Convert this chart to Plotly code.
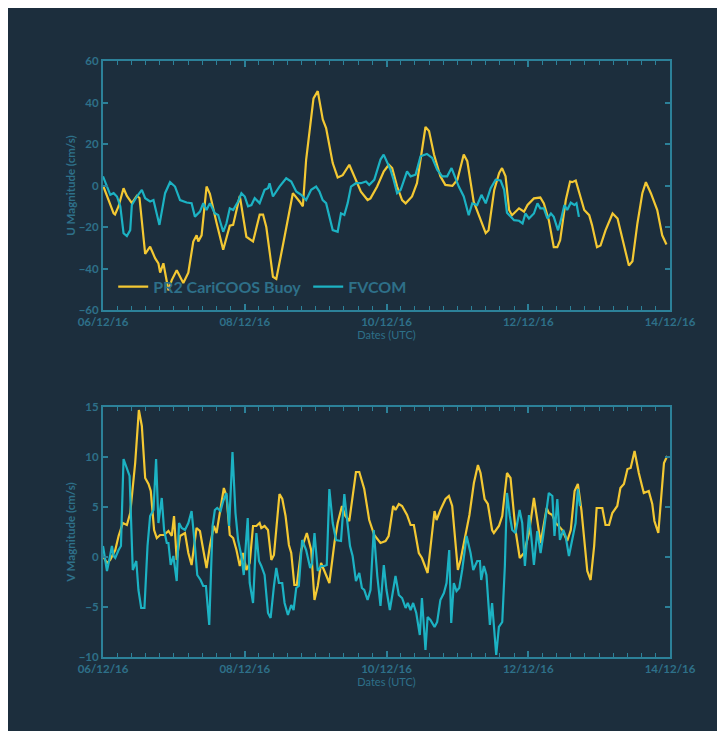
import plotly.graph_objects as go
from plotly.subplots import make_subplots
import pandas as pd

START = "2016-12-06"
END = "2016-12-14"

# ---- U component (top panel): day offsets from 06/12/16 and values (cm/s)
u_buoy_days = [0, .15, .17, .22, .29, .337, .407, .478, .515, .595, .665, .735, .782, .806, .852, .923,
               .97, 1.04, 1.133, 1.204, 1.274, 1.321, 1.344, 1.391, 1.461, 1.508, 1.602, 1.696, 1.789,
               1.836, 1.93, 2.023, 2.117, 2.211, 2.258, 2.304, 2.398, 2.445, 2.539, 2.679, 2.773, 2.82,
               2.866, 2.97, 3.03, 3.101, 3.148, 3.241, 3.311, 3.382, 3.475, 3.522, 3.639, 3.733, 3.774,
               3.868, 3.962, 4.033, 4.08, 4.15, 4.22, 4.27, 4.36, 4.43, 4.50, 4.55, 4.60, 4.67, 4.76,
               4.83, 4.93, 5.0, 5.09, 5.14, 5.23, 5.33, 5.40, 5.44, 5.52, 5.59, 5.63, 5.68, 5.73, 5.77,
               5.87, 5.94, 5.99, 6.08, 6.17, 6.22, 6.29, 6.36, 6.41, 6.45, 6.53, 6.59, 6.62, 6.67, 6.72,
               6.79, 6.86, 6.90, 6.97, 7.02, 7.09, 7.19, 7.26, 7.33, 7.42, 7.47, 7.54, 7.61, 7.66, 7.73,
               7.82, 7.89, 7.95]
u_buoy_vals = [0, -13.4, -14, -10, -1.3, -5, -8.5, -5, -6, -33, -29.5, -35, -37.5, -42, -37.5, -50.5,
               -45.6, -40.8, -47, -42, -27, -24, -27, -24, -0.5, -4, -18, -31, -19.4,
               -19, -5, -24.7, -27, -14, -14, -20, -44, -45, -28.7, -3.7, -7.7, -10,
               12.4, 42, 45.5, 31.8, 27.7, 10.8, 3.9, 5, 10, 6, -3, -7, -6.2,
               -0.5, 6.8, 10, 8.4, -0.5, -7, -8.6, -5.3, 1.1, 17.3, 28.2, 26.3, 14.9, 4.4,
               0.3, -0.2, 2.8, 14.9, 11.7, -7.8, -16.7, -22.9, -21.6, -2.1, 6, 8.4, 4.4, -11.8, -14.3,
               -11, -12.6, -9.4, -6.2, -5.8, -8.6, -16.7, -29.7, -29.7, -26.4, -7, 1.9, 1.6, 2.4, -3.7,
               -11.8, -14.3, -19.1, -29.7, -28.9, -21.6, -13.5, -15.9, -26.4, -38.6, -36.5, -18.3, -3.7, 1.6, -3.7,
               -11.8, -24, -28.4]

u_model_days = [0, .056, .103, .15, .197, .244, .29, .337, .384, .407, .478, .548, .595, .665, .712, .796,
                .876, .946, 1.016, 1.087, 1.18, 1.25, 1.297, 1.368, 1.415, 1.461, 1.508, 1.578, 1.625,
                1.696, 1.742, 1.789, 1.836, 1.906, 1.953, 2.0, 2.047, 2.094, 2.14, 2.21, 2.28, 2.328,
                2.35, 2.398, 2.49, 2.585, 2.656, 2.726, 2.796, 2.866, 2.937, 3.007, 3.054, 3.1, 3.148,
                3.241, 3.311, 3.358, 3.405, 3.452, 3.499, 3.569, 3.639, 3.71, 3.756, 3.827, 3.87, 3.915,
                3.96, 4.01, 4.056, 4.10, 4.15, 4.20, 4.245, 4.29, 4.34, 4.41, 4.48, 4.57, 4.645, 4.715,
                4.786, 4.856, 4.918, 4.974, 5.02, 5.09, 5.16, 5.21, 5.28, 5.34, 5.40, 5.47, 5.54, 5.61,
                5.66, 5.70, 5.80, 5.87, 5.92, 5.96, 6.01, 6.08, 6.13, 6.17, 6.22, 6.27, 6.32, 6.36, 6.42,
                6.46, 6.51, 6.55, 6.60, 6.65, 6.68, 6.715]
u_model_vals = [4.4, -0.5, -4.5, -3.7, -5.3, -10, -23, -24.4, -21.5, -9.4, -5.3, -2.1, -6.1, -7.7, -7, -19,
                -3.7, 1.6, -0.5, -7, -8.2, -8.5, -15, -12.6, -8.5, -11.8, -8.5, -13.4, -14.2,
                -22.3, -18.2, -11, -11.8, -7.7, -3.7, -5.3, -10, -9.4, -6.1, -8.5, -2.1, -1.3,
                1.1, -5.3, -0.5, 3.5, 1.9, -2.9, -4.5, -7, -2.1, -0.5, -2.9, -7, -8.5,
                -21.5, -22.3, -13.4, -14.2, -8.5, -0.5, 1.1, 1.1, 1.9, 0.3, 2.7, 7.6, 12.5,
                14.9, 10.9, 7.6, 2.8, -3.7, -2.1, 2.3, 6.8, 4.4, 5.2, 14.1, 15.2, 13.3, 7.6,
                4.4, 4.4, 8.4, 3.6, -0.5, -5.3, -14.3, -8.6, -9.4, -4.5, -8.6, -1.3, 2.8, 2.4,
                -2.1, -13.1, -16.7, -17, -18.3, -13.5, -15.9, -13.5, -8.6, -11, -11, -15.9, -13.5, -15.1, -21.6,
                -16.7, -9.4, -11.8, -8.3, -9.4, -8.6, -15.1]

# ---- V component (bottom panel)
v_buoy_days = [0, .056, .1, .173, .22, .28, .337, .384, .454, .506, .548, .595, .642, .674, .721, .759,
               .806, .862, .923, .97, 1.002, 1.04, 1.087, 1.157, 1.204, 1.25, 1.32, 1.368, 1.405, 1.461,
               1.508, 1.564, 1.602, 1.649, 1.705, 1.742, 1.789, 1.836, 1.883, 1.93, 1.977, 2.023, 2.07,
               2.117, 2.164, 2.21, 2.234, 2.28, 2.328, 2.375, 2.412, 2.49, 2.53, 2.576, 2.623, 2.656,
               2.70, 2.735, 2.796, 2.876, 2.937, 2.984, 3.03, 3.077, 3.124, 3.194, 3.265, 3.311, 3.372,
               3.419, 3.475, 3.522, 3.569, 3.616, 3.686, 3.756, 3.827, 3.915, 3.986, 4.03, 4.094,
               4.127, 4.174, 4.22, 4.29, 4.34, 4.386, 4.456, 4.50, 4.58, 4.63, 4.678, 4.706, 4.76,
               4.833, 4.88, 4.927, 5.007, 5.045, 5.115, 5.17, 5.233, 5.29, 5.327, 5.384, 5.43, 5.49,
               5.515, 5.586, 5.633, 5.70, 5.75, 5.82, 5.88, 5.94, 6.01, 6.08, 6.127, 6.174, 6.26, 6.29,
               6.34, 6.386, 6.43, 6.48, 6.55, 6.60, 6.654, 6.70, 6.75, 6.81, 6.833, 6.88, 6.93, 6.965,
               7.045, 7.09, 7.14, 7.186, 7.256, 7.30, 7.35, 7.40, 7.445, 7.50, 7.56, 7.63, 7.70, 7.75,
               7.78, 7.835, 7.915, 7.96]
v_buoy_vals = [0.1, -0.6, -0.3, 0.7, 2.1, 3.4, 3.2, 4.4, 9.4, 14.7, 13.1, 7.9, 7.3, 6.6, 2.7, 1.9,
               2.2, 2.2, 2.6, 2.1, 4.1, -0.3, 2.1, 2.4, 0.4, -0.8, 2.9, 2.6, 1.1, -1.1,
               1.1, 3.1, 2.4, 4.4, 6.9, 6.1, 2.2, 1.9, 0.7, -0.9, 0.4, -1.3, -0.6,
               3.1, 3.1, 3.4, 2.9, 3.1, 2.7, -0.3, 0.2, 6.3, 5.8, 4.1, 1.2, 0.4,
               -2.8, -2.8, 0.7, 2.4, 0.7, -4.3, -2.9, -0.6, -1.4, -2.6, 1.4, 3.4, 5.1,
               4.1, 3.6, 6.1, 8.5, 8.5, 6.8, 3.7, 2.2, 1.4, 1.6, 2.1, 5.1,
               4.7, 5.3, 5.1, 4.2, 3.2, 3.2, 0.4, -0.1, -1.6, 1.7, 4.6, 3.7, 4.7,
               5.8, 6.1, 5.1, -1.3, -0.3, 2.4, 4.2, 7.4, 9.2, 8.4, 5.8, 5.3, 2.7,
               2.4, 3.1, 4.1, 8.4, 7.9, 2.7, -0.1, 0.4, 2.4, 5.9, 3.7, 1.4, 4.9, 4.4,
               4.2, 3.4, 3.1, 2.7, 1.6, 2.7, 6.6, 7.3, 4.7, 0.4, -1.4, -2.3, 1.1, 4.9,
               4.9, 3.2, 3.2, 4.4, 5.1, 6.9, 7.3, 8.8, 8.9, 10.6, 8.4, 6.4, 6.6, 5.3,
               3.6, 2.4, 9.4, 10.1]

v_model_days = [0, .033, .056, .094, .126, .15, .173, .22, .253, .29, .337, .375, .42, .47, .50, .539,
                .585, .628, .665, .712, .749, .782, .829, .862, .90, .923, .955, .993, 1.04, 1.073,
                1.11, 1.157, 1.204, 1.25, 1.297, 1.33, 1.377, 1.414, 1.452, 1.499, 1.546, 1.578, 1.611,
                1.658, 1.696, 1.742, 1.78, 1.827, 1.869, 1.906, 1.953, 1.986, 2.014, 2.042, 2.07, 2.117,
                2.164, 2.201, 2.234, 2.28, 2.328, 2.365, 2.412, 2.445, 2.482, 2.529, 2.562, 2.609, 2.656,
                2.689, 2.726, 2.763, 2.81, 2.866, 2.923, 2.951, 2.984, 3.03, 3.077, 3.124, 3.157, 3.194,
                3.241, 3.288, 3.358, 3.405, 3.438, 3.485, 3.522, 3.569, 3.616, 3.653, 3.686, 3.733,
                3.774, 3.82, 3.87, 3.915, 3.962, 4.0, 4.047, 4.094, 4.127, 4.174, 4.22, 4.27, 4.30, 4.34,
                4.376, 4.42, 4.47, 4.50, 4.55, 4.58, 4.62, 4.678, 4.715, 4.76, 4.81, 4.847, 4.885, 4.913,
                4.95, 4.988, 5.026, 5.068, 5.13, 5.186, 5.224, 5.28, 5.318, 5.336, 5.374, 5.41, 5.459,
                5.49, 5.515, 5.548, 5.586, 5.633, 5.67, 5.70, 5.74, 5.774, 5.82, 5.878, 5.915, 5.953,
                5.986, 6.01, 6.042, 6.08, 6.127, 6.174, 6.21, 6.26, 6.29, 6.34, 6.37, 6.41, 6.447, 6.494,
                6.527, 6.574, 6.62, 6.668, 6.70, 6.73]
v_model_vals = [1.1, -0.6, -1.4, -0.1, 1.1, 0.1, -0.1, 0.7, 1.1, 9.8, 8.8, 8.1, -1.3, -0.4, -3.3, -5.1,
                -5.1, 1.1, 4.1, 4.7, 9.8, 3.4, 5.9, 2.7, 1.4, 1.4, -0.8, 0.1, -2.4, 3.4,
                2.9, 2.7, 3.4, 4.6, 1.1, -1.8, -2.3, -2.9, -2.9, -6.8, 3.1, 4.7, 4.9,
                4.6, 5.6, 6.4, 3.1, 10.5, 4.4, 1.7, 0.1, -1.8, 1.1, 3.9, -2.6, -4.6,
                2.4, -0.4, -0.9, -1.8, -5.6, -6.1, -2.9, -1.1, -2.6, -2.6, -4.6, -5.8, -4.8,
                -5.3, -3.1, -2.9, 1.7, 0.7, -1.1, -0.6, 2.4, -1.4, -0.9, -0.9, -0.8, 6.8,
                3.4, 1.7, 1.6, 6.3, 4.1, 1.1, 0.1, -2.4, -1.6, -3.1, -3.3, -4.3,
                -3.3, 2.7, -1.9, -4.9, -0.8, -3.3, -5.3, -3.3, -1.9, -3.8, -4.1, -5.1, -4.6, -5.3,
                -4.6, -5.6, -7.8, -4.1, -9.3, -6.0, -6.3, -7.0, -6.5, -4.3, -3.6, -2.6, 0.7, -6.6,
                -2.6, -3.4, -3.1, -1.3, 2.1, 0.4, -1.3, -0.4, -0.4, -2.3, -0.9, -1.8, -6.8,
                -4.6, -7.0, -9.8, -7.0, -6.5, -0.9, 6.4, 4.1, 2.7, 2.4, 4.7, 3.4, -0.9,
                2.1, 4.2, 2.1, -0.8, 2.6, 0.4, 2.1, 4.7, 6.4, 6.1, 2.1, 5.8, 1.7, 2.7,
                2.1, 0.1, 1.9, 3.4, 6.8, 5.1]

series_names = ["PR2 CariCOOS Buoy", "FVCOM"]
u_ticks = [-60, -40, -20, 0, 20, 40, 60]
v_ticks = [-10, -5, 0, 5, 10, 15]
u_title = "U Magnitude (cm/s)"
v_title = "V Magnitude (cm/s)"
x_title = "Dates (UTC)"

BG = "#1c2e3d"
AX = "#2c8199"
TXT = "#2e7089"
YEL = "#f3c833"
CYN = "#1cb2c3"
FONT = "Lato"


def to_dates(days):
    return pd.Timestamp(START) + pd.to_timedelta(days, unit="D")


fig = make_subplots(rows=2, cols=1, vertical_spacing=0.16)
fig.add_trace(go.Scatter(x=to_dates(u_buoy_days), y=u_buoy_vals, mode="lines", name=series_names[0],
                         line=dict(color=YEL, width=2.2)), row=1, col=1)
fig.add_trace(go.Scatter(x=to_dates(u_model_days), y=u_model_vals, mode="lines", name=series_names[1],
                         line=dict(color=CYN, width=2.2)), row=1, col=1)
fig.add_trace(go.Scatter(x=to_dates(v_buoy_days), y=v_buoy_vals, mode="lines", showlegend=False,
                         line=dict(color=YEL, width=2.2)), row=2, col=1)
fig.add_trace(go.Scatter(x=to_dates(v_model_days), y=v_model_vals, mode="lines", showlegend=False,
                         line=dict(color=CYN, width=2.2)), row=2, col=1)

xcommon = dict(type="date", range=[START, END], tick0=START, dtick=2 * 86400000, tickformat="%d/%m/%y",
               showgrid=False, zeroline=False, showline=True, linecolor=AX, linewidth=2, mirror="ticks",
               ticks="inside", ticklen=6, tickwidth=1.5, tickcolor=AX,
               tickfont=dict(family=FONT, size=11.5, color=TXT, weight="bold"),
               minor=dict(ticks="inside", ticklen=4, tickwidth=1, tickcolor=AX, dtick=0.2 * 86400000,
                          tick0=START, showgrid=False),
               title=dict(text=x_title, font=dict(family=FONT, size=11, color=TXT), standoff=1))
ycommon = dict(showgrid=False, zeroline=False, showline=True, linecolor=AX, linewidth=2, mirror="ticks",
               ticks="inside", ticklen=5, tickwidth=1.5, tickcolor=AX,
               tickfont=dict(family=FONT, size=11.5, color=TXT, weight="bold"))

fig.update_xaxes(**xcommon, row=1, col=1)
fig.update_xaxes(**xcommon, row=2, col=1)
fig.update_yaxes(**ycommon, range=[-60, 60], tickvals=u_ticks, domain=[347 / 596, 1],
                 title=dict(text=u_title, font=dict(family=FONT, size=11.5, color=TXT, weight="bold"),
                            standoff=1),
                 row=1, col=1)
fig.update_yaxes(**ycommon, range=[-10, 15], tickvals=v_ticks, domain=[0, 250 / 596],
                 title=dict(text=v_title, font=dict(family=FONT, size=11.5, color=TXT, weight="bold"),
                            standoff=1),
                 row=2, col=1)

fig.update_layout(
    width=725, height=731,
    margin=dict(l=95, r=63, t=53, b=82),
    paper_bgcolor=BG, plot_bgcolor=BG,
    font=dict(family=FONT, color=TXT),
    showlegend=True,
    legend=dict(orientation="h", x=0.018, y=0.6213, xanchor="left", yanchor="middle",
                bgcolor="rgba(0,0,0,0)", font=dict(family=FONT, size=16, color=TXT, weight="bold"),
                itemwidth=30, tracegroupgap=0, entrywidth=150),
)

fig.write_html("out.html")
